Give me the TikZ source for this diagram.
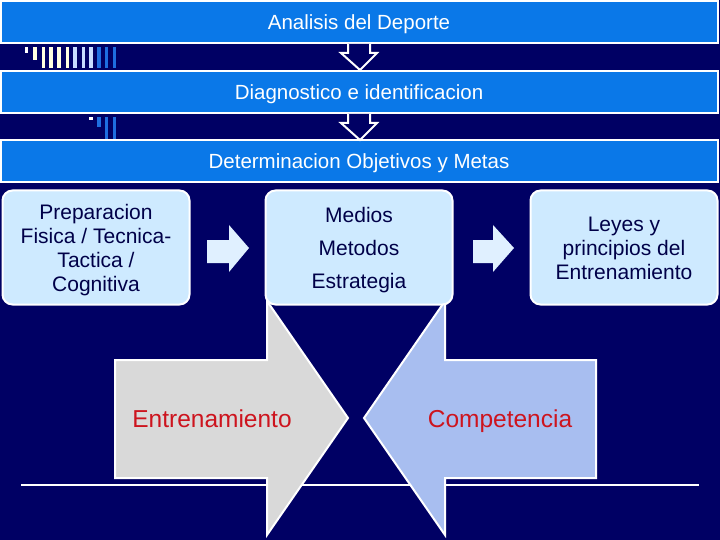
\documentclass[tikz,border=0pt]{standalone}
\usepackage{fontspec}
\setmainfont{Liberation Sans}
\definecolor{navybg}{RGB}{0,0,100}
\definecolor{bandblue}{RGB}{10,120,232}
\definecolor{boxblue}{RGB}{206,234,255}
\definecolor{boxtext}{RGB}{0,0,72}
\definecolor{arrowlight}{RGB}{224,240,255}
\definecolor{graybox}{RGB}{217,217,217}
\definecolor{compblue}{RGB}{168,190,240}
\definecolor{labelred}{RGB}{205,20,30}
\definecolor{paleyellow}{RGB}{255,255,225}
\definecolor{barlight}{RGB}{200,220,255}
\definecolor{barblue}{RGB}{30,110,225}
\tikzset{
  band/.style={draw=white, line width=2pt, fill=bandblue, minimum width=717pt, minimum height=42pt, inner sep=0pt, text=white, font=\fontsize{20.5}{24}\selectfont, text height=14.7pt, text depth=0pt},
  roundbox/.style={draw=white, line width=2pt, fill=boxblue, rounded corners=10pt, minimum width=187pt, minimum height=114pt, inner sep=0pt},
  boxlabel/.style={align=center, text=boxtext, inner sep=0pt},
  downarrow/.style={draw=white, line width=2pt, fill=navybg, line join=miter},
  rightarrow/.style={fill=arrowlight},
  bigarrow/.style={draw=white, line width=2pt, line join=miter},
  biglabel/.style={text=labelred, font=\fontsize{24.5}{28}\selectfont, inner sep=0pt, anchor=base},
}
\begin{document}
\begin{tikzpicture}[x=1pt,y=-1pt]
\fill[navybg] (0,0) rectangle (720,540);
\useasboundingbox (0,0) rectangle (720,540);

% decorative bars, first group
\fill[white] (25,47) rectangle (28,53);
\foreach \a/\b in {33/37}{\fill[paleyellow] (\a,47) rectangle (\b,60);}
\foreach \a/\b in {42/45,49/53,57/61,66/69}{\fill[paleyellow] (\a,47) rectangle (\b,68);}
\foreach \a/\b in {73/77,82/85,89/93}{\fill[barlight] (\a,47) rectangle (\b,68);}
\foreach \a/\b in {97/101,105/108,113/116}{\fill[barblue] (\a,47) rectangle (\b,68);}
% second group
\fill[white] (89,117) rectangle (93,120);
\fill[barblue] (97,117) rectangle (101,127);
\foreach \a/\b in {105/108,113/116}{\fill[barblue] (\a,117) rectangle (\b,139);}

% top bands
\node[band] (b1) at (359,22.5) {Analisis del Deporte};
\node[band] (b2) at (359,92.5) {Diagnostico e identificacion};
\node[band] (b3) at (359,161.5) {Determinacion Objetivos y Metas};

% down arrows between bands
\path[downarrow] (348,44) -- (348,53) -- (341,53) -- (360,70) -- (377,53) -- (370,53) -- (370,44);
\path[downarrow] (348,114) -- (348,123) -- (341,123) -- (360,140) -- (377,123) -- (370,123) -- (370,114);

% horizontal line
\coordinate (l1) at (21,485);
\coordinate (l2) at (699,485);
\draw[white, line width=1.5pt] (l1) -- (l2);

% big arrows
\path[bigarrow, fill=graybox] (115,360) -- (267,360) -- (267,301) -- (348,418) -- (267,535) -- (267,478) -- (115,478) -- cycle;
\path[bigarrow, fill=compblue] (596,360) -- (445,360) -- (445,301) -- (364,418) -- (445,535) -- (445,478) -- (596,478) -- cycle;
\node[biglabel] (ent) at (212,427) {Entrenamiento};
\node[biglabel] (comp) at (500,427) {Competencia};

% rounded boxes
\node[roundbox] (pa) at (96,247.5) {};
\node[roundbox] (pb) at (359,247.5) {};
\node[roundbox] (pc) at (624,247.5) {};
\node[boxlabel, font=\fontsize{21}{24}\selectfont] (ta) at ([yshift=-3pt]pa.center) {Preparacion\\Fisica / Tecnica-\\Tactica /\\Cognitiva};
\node[boxlabel, font=\fontsize{21}{33}\selectfont] (tb) at ([yshift=-3pt]pb.center) {Medios\\Metodos\\Estrategia};
\node[boxlabel, font=\fontsize{21}{24}\selectfont] (tc) at ([yshift=-1pt]pc.center) {Leyes y\\principios del\\Entrenamiento};

% small right arrows
\path[rightarrow] (207,240) -- (229,240) -- (229,225) -- (249,248) -- (229,272) -- (229,263) -- (207,263) -- cycle;
\path[rightarrow] (473,240) -- (493,240) -- (493,225) -- (514,248) -- (493,272) -- (493,263) -- (473,263) -- cycle;
\end{tikzpicture}
\end{document}
